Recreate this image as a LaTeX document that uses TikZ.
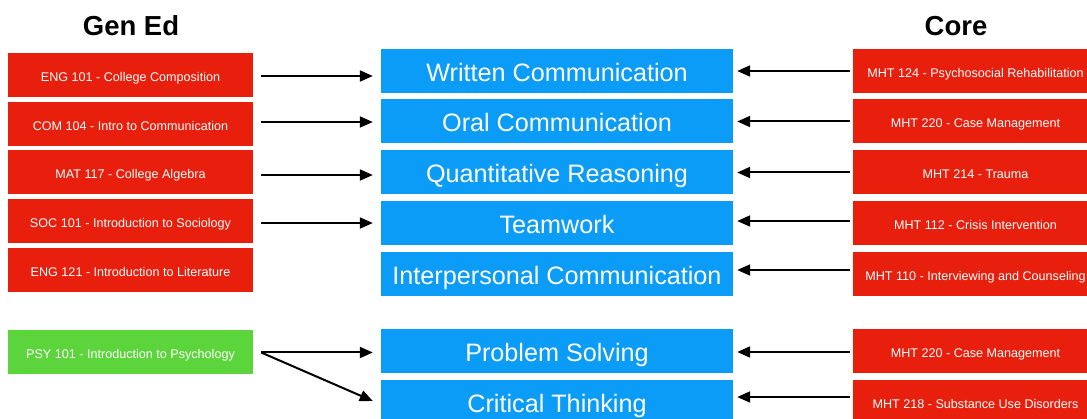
\documentclass[tikz,border=0pt]{standalone}
\usepackage{fontspec}
\setmainfont{Liberation Sans}
\usetikzlibrary{arrows.meta}
\definecolor{coursered}{HTML}{E81F0C}
\definecolor{outcomeblue}{HTML}{0A9CF6}
\definecolor{coursegreen}{HTML}{5CD53C}
\tikzset{
  course/.style={fill=coursered, draw=none, minimum width=245pt, minimum height=44pt,
    inner sep=0pt, text height=12.4pt, text depth=0pt, text=white,
    font=\fontsize{12.6pt}{14pt}\selectfont},
  elective/.style={course, fill=coursegreen},
  outcome/.style={fill=outcomeblue, draw=none, minimum width=352pt, minimum height=44pt,
    inner sep=0pt, text height=21pt, text depth=0pt, text=white,
    font=\fontsize{25.2pt}{28pt}\selectfont},
  heading/.style={font=\fontsize{27.5pt}{32pt}\selectfont\bfseries, inner sep=0pt},
  arr/.style={line width=2pt, -{Triangle[length=13pt,width=11pt]}},
}
\begin{document}
\begin{tikzpicture}[x=1pt, y=-1pt]
\useasboundingbox (0,0) rectangle (1087,419);
\begin{scope}
\clip (0,0) rectangle (1087,419);

% column headings
\node[heading] (genedhead) at (131,26) {Gen Ed};
\node[heading] (corehead) at (956,26) {Core};

% general education courses
\node[course] (l1) at (130.5,75.5) {ENG 101 - College Composition};
\node[course] (l2) at (130.5,124) {COM 104 - Intro to Communication};
\node[course] (l3) at (130.5,172.5) {MAT 117 - College Algebra};
\node[course] (l4) at (130.5,221.5) {SOC 101 - Introduction to Sociology};
\node[course] (l5) at (130.5,270) {ENG 121 - Introduction to Literature};
\node[elective] (l6) at (130.5,352.5) {PSY 101 - Introduction to Psychology};

% learning outcomes
\node[outcome] (b1) at (557,71) {Written Communication};
\node[outcome] (b2) at (557,121.5) {Oral Communication};
\node[outcome] (b3) at (557,172.5) {Quantitative Reasoning};
\node[outcome] (b4) at (557,223) {Teamwork};
\node[outcome] (b5) at (557,274) {Interpersonal Communication};
\node[outcome] (b6) at (557,351.5) {Problem Solving};
\node[outcome] (b7) at (557,402) {Critical Thinking};

% core courses
\node[course] (r1) at (975.5,71) {MHT 124 - Psychosocial Rehabilitation};
\node[course] (r2) at (975.5,121.5) {MHT 220 - Case Management};
\node[course] (r3) at (975.5,172.5) {MHT 214 - Trauma};
\node[course] (r4) at (975.5,223) {MHT 112 - Crisis Intervention};
\node[course] (r5) at (975.5,274) {MHT 110 - Interviewing and Counseling};
\node[course] (r6) at (975.5,351) {MHT 220 - Case Management};
\node[course] (r7) at (975.5,402) {MHT 218 - Substance Use Disorders};

% gen ed -> outcomes
\draw[arr] ([xshift=8pt,yshift=-0.5pt]l1.east) -- ([xshift=-8pt,yshift=-0.5pt]l1.east -| b1.west);
\draw[arr] ([xshift=8pt,yshift=2pt]l2.east) -- ([xshift=-8pt,yshift=2pt]l2.east -| b2.west);
\draw[arr] ([xshift=8pt,yshift=-2.5pt]l3.east) -- ([xshift=-8pt,yshift=-2.5pt]l3.east -| b3.west);
\draw[arr] ([xshift=8pt,yshift=-1.5pt]l4.east) -- ([xshift=-8pt,yshift=-1.5pt]l4.east -| b4.west);
\draw[arr] ([xshift=8pt]l6.east) -- ([xshift=-8pt]l6.east -| b6.west);
\draw[arr] ([xshift=8pt]l6.east) -- ([xshift=-8pt,yshift=1pt]b7.west);

% core -> outcomes
\draw[arr] ([xshift=-3pt]r1.west) -- ([xshift=4pt]r1.west -| b1.east);
\draw[arr] ([xshift=-3pt]r2.west) -- ([xshift=4pt]r2.west -| b2.east);
\draw[arr] ([xshift=-3pt]r3.west) -- ([xshift=4pt]r3.west -| b3.east);
\draw[arr] ([xshift=-3pt,yshift=2pt]r4.west) -- ([xshift=4pt,yshift=2pt]r4.west -| b4.east);
\draw[arr] ([xshift=-3pt,yshift=4pt]r5.west) -- ([xshift=4pt,yshift=4pt]r5.west -| b5.east);
\draw[arr] ([xshift=-3pt,yshift=-1pt]r6.west) -- ([xshift=4pt,yshift=-1pt]r6.west -| b6.east);
\draw[arr] ([xshift=-3pt,yshift=5pt]r7.west) -- ([xshift=4pt,yshift=5pt]r7.west -| b7.east);
\end{scope}
\end{tikzpicture}
\end{document}
